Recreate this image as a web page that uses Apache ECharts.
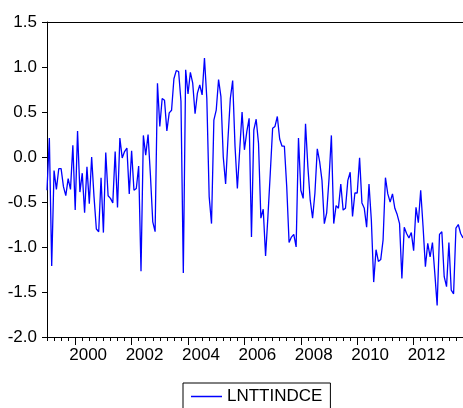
<!DOCTYPE html>
<html>
<head>
<meta charset="utf-8">
<script src="https://cdn.jsdelivr.net/npm/echarts@6/dist/echarts.min.js"></script>
<style>
html,body{margin:0;padding:0;background:#fff;}
#chart{width:463px;height:408px;}
</style>
</head>
<body>
<div id="chart"></div>
<script>
// Monthly series LNTTINDCE, 1999M01 .. 2013M10
var seriesName = 'LNTTINDCE';
var startYear = 1999;
var values = [
 -0.37, 0.21,-1.21,-0.15,-0.36,-0.13,-0.13,-0.33,-0.43,-0.24,-0.36, 0.13,
 -0.59, 0.29,-0.39,-0.18,-0.62,-0.11,-0.52, 0.00,-0.44,-0.80,-0.83,-0.23,
 -0.84, 0.05,-0.43,-0.46,-0.51, 0.06,-0.56, 0.21,-0.01, 0.06, 0.10,-0.41,
  0.07,-0.37,-0.35,-0.10,-1.27, 0.24, 0.02, 0.25,-0.20,-0.72,-0.83, 0.82,
  0.34, 0.65, 0.63, 0.29, 0.49, 0.52, 0.87, 0.96, 0.95, 0.62,-1.29, 0.97,
  0.70, 0.94, 0.82, 0.48, 0.71, 0.80, 0.69, 1.10, 0.65,-0.44,-0.74, 0.41,
  0.52, 0.86, 0.67, 0.00,-0.30, 0.20, 0.65, 0.85, 0.12,-0.35, 0.08, 0.50,
  0.08, 0.28, 0.43,-0.89, 0.30, 0.42, 0.15,-0.68,-0.58,-1.10,-0.66,-0.18,
  0.32, 0.34, 0.45, 0.20, 0.12, 0.12,-0.33,-0.95,-0.89,-0.86,-1.00, 0.21,
 -0.37,-0.46, 0.37,-0.11,-0.48,-0.68,-0.40, 0.09,-0.05,-0.26,-0.74,-0.62,
 -0.24, 0.24,-0.74,-0.54,-0.57,-0.30,-0.59,-0.57,-0.26,-0.17,-0.66,-0.40,
 -0.40,-0.01,-0.51,-0.57,-0.78,-0.30,-0.70,-1.39,-1.03,-1.16,-1.14,-0.92,
 -0.23,-0.41,-0.50,-0.41,-0.57,-0.64,-0.74,-1.35,-0.78,-0.85,-0.90,-0.84,
 -1.04,-0.56,-0.73,-0.37,-0.77,-1.22,-0.96,-1.11,-0.95,-1.29,-1.65,-0.86,
 -0.83,-1.33,-1.44,-0.95,-1.48,-1.52,-0.79,-0.75,-0.85,-0.90
];
var yearLabels = [2000, 2002, 2004, 2006, 2008, 2010, 2012];
var yMin = -2.0, yMax = 1.5, yStep = 0.5;

var lastIdx = values.length - 1;
var pts = values.map(function(v, i){ return [i, v]; });
var quarterTicks = [];
for (var q = 0; q <= lastIdx; q += 3) quarterTicks.push(q);
var majorTicks = yearLabels.map(function(y){ return (y - startYear) * 12; });
var labelPos = yearLabels.map(function(y){ return (y - startYear) * 12 + 5.5; });

var FONT = 'Liberation Sans, Arial, sans-serif';
var chart = echarts.init(document.getElementById('chart'), null, {renderer:'canvas'});
chart.setOption({
  animation: false,
  backgroundColor: '#ffffff',
  grid: {left: 47, top: 22, right: 0, bottom: 71, containLabel: false},
  legend: {
    data: [seriesName],
    left: 183, top: 383,
    padding: [5, 8, 5, 8],
    borderColor: '#000', borderWidth: 1,
    itemWidth: 31, itemHeight: 1.5, icon: 'rect',
    textStyle: {fontFamily: FONT, fontSize: 17, color: '#000'}
  },
  xAxis: [
    {
      type: 'value', min: 0, max: lastIdx, position: 'bottom',
      axisLine: {show: true, onZero: false, lineStyle: {color: '#000', width: 1}},
      axisTick: {show: true, inside: false, length: 4, customValues: quarterTicks, lineStyle: {color: '#000'}},
      axisLabel: {
        show: true, margin: 10, customValues: labelPos,
        fontFamily: FONT, fontSize: 17, color: '#000',
        formatter: function(v){ return String(startYear + Math.floor(v / 12)); }
      },
      splitLine: {show: false}
    },
    {
      type: 'value', min: 0, max: lastIdx, position: 'bottom',
      axisLine: {show: false, onZero: false},
      axisTick: {show: true, inside: false, length: 8, customValues: majorTicks, lineStyle: {color: '#000'}},
      axisLabel: {show: false},
      splitLine: {show: false}
    },
    {
      type: 'value', min: 0, max: lastIdx, position: 'top',
      axisLine: {show: true, onZero: false, lineStyle: {color: '#000', width: 1}},
      axisTick: {show: false}, axisLabel: {show: false}, splitLine: {show: false}
    }
  ],
  yAxis: {
    type: 'value', min: yMin, max: yMax, interval: yStep,
    axisLine: {show: true, onZero: false, lineStyle: {color: '#000', width: 1}},
    axisTick: {show: true, inside: false, length: 5, lineStyle: {color: '#000'}},
    axisLabel: {margin: 10, fontFamily: FONT, fontSize: 17, color: '#000',
      formatter: function(v){ return v.toFixed(1); }},
    splitLine: {show: false}
  },
  series: [{
    name: seriesName, type: 'line', xAxisIndex: 0, data: pts,
    showSymbol: false, symbol: 'none',
    lineStyle: {color: '#0000ff', width: 1.3},
    itemStyle: {color: '#0000ff'}
  }]
});
</script>
</body>
</html>
